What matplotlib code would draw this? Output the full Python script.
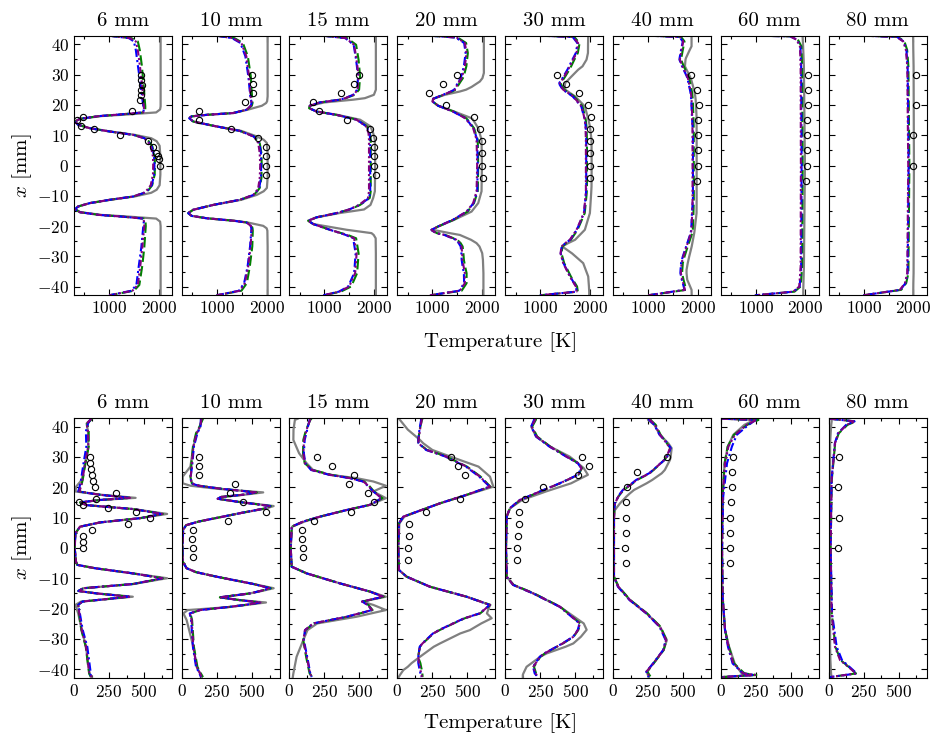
import matplotlib
matplotlib.use("Agg")
import matplotlib.pyplot as plt
from matplotlib.ticker import MultipleLocator

plt.rcParams.update({
    "font.family": "serif",
    "font.serif": ["cmr10"],
    "mathtext.fontset": "cm",
    "axes.unicode_minus": False,
    "axes.formatter.use_mathtext": True,
})

TITLES = ["6 mm", "10 mm", "15 mm", "20 mm", "30 mm", "40 mm", "60 mm", "80 mm"]

# ---------------- top row: mean temperature ----------------
TOP_Y = [
    [42.8, 42.0, 40.9, 38, 33, 26, 19.5, 18.5, 17.5, 16.8, 16.3, 15.4, 14.5, 13.4, 12.3, 11.2, 10.1, 9.0, 8.0, 6.5,
     3, 0, -3, -6.5, -8.0, -9.0, -10.2, -11.3, -12.4, -13.5, -14.4, -15.4, -16.3, -16.8, -17.5, -18.5, -20, -27, -33,
     -39.4, -41.3, -42.8],
    [42.8, 42.0, 40.4, 36, 29.4, 22.8, 21.2, 20.6, 19.7, 18.4, 17.3, 16.7, 16.2, 15.6, 14.5, 13.1, 11.4, 9.6, 8.5, 7.4,
     4.1, 0, -4.1, -7.4, -8.5, -9.7, -11.3, -13.0, -14.6, -15.7, -16.6, -17.4, -18.2, -18.8, -19.9, -20.7, -21.5, -26.7,
     -33.3, -38.8, -41.3, -42.8],
    [42.8, 42.0, 39.8, 34.8, 29.4, 25, 23.3, 22.2, 21.7, 20.8, 19.7, 18.9, 17.8, 16.7, 15.1, 12.9, 10.7, 8.5, 0, -8.5,
     -10.7, -13.0, -14.5, -15.7, -17.1, -18.2, -19.3, -21.2, -22.3, -22.9, -24.0, -29, -35.5, -39.9, -41.6, -42.8],
    [42.8, 42.2, 40.4, 37.1, 32.7, 30.5, 28.8, 27.7, 25.9, 25, 24.4, 23.3, 22.0, 21.1, 19.7, 17.8, 15.6, 15.1, 12.3, 8.5,
     0, -8.5, -12.4, -15.2, -17.9, -20.1, -21.2, -21.5, -22.3, -22.9, -24.5, -25.6, -26.7, -28.9, -31.1, -33.3, -35.5,
     -38.8, -41.3, -42.8],
    [42.8, 42.4, 40.3, 37.1, 34.9, 32.7, 31.6, 28.8, 27.2, 26.6, 25, 22.8, 19.5, 15.1, 12.9, 8.5, 0, -6.9, -9.1, -15.7,
     -21.2, -24.5, -25.6, -26.7, -29, -32.2, -36.6, -39.9, -41.6, -42.8],
    [42.8, 42.4, 40.9, 39.3, 38.1, 35.4, 34.9, 32.7, 29.4, 28.3, 23.9, 21.7, 16.2, 10.7, -11.3, -15.7, -21.2, -22.3,
     -26.7, -30, -32.2, -34.4, -35.5, -37.7, -38.8, -41.0, -42.8],
    [42.8, 42.6, 41.5, 39.3, 32.7, 0, -33.3, -39.9, -41.6, -42.8],
    [42.8, 42.4, 40.9, 38.1, 32.7, 0, -35.5, -38.8, -41.0, -42.8],
]
TOP_GREY = [
    [2040, 2040, 2040, 2040, 2040, 2040, 2040, 2030, 1950, 1350, 850, 420, 310, 375, 610, 1030, 1520, 1850, 1960, 2020,
     2035, 2035, 2035, 2020, 1960, 1850, 1520, 1030, 610, 375, 310, 420, 850, 1350, 1950, 2030, 2040, 2040, 2040, 2040,
     2040, 2040],
    [2020, 2020, 2020, 2020, 2020, 2020, 2010, 1990, 1904, 1620, 1330, 790, 483, 436, 517, 921, 1490, 1800, 1940, 2005,
     2020, 2020, 2020, 2005, 1940, 1800, 1490, 921, 517, 416, 483, 790, 1340, 1620, 1931, 2000, 2015, 2020, 2020, 2020,
     2020, 2020],
    [2039, 2039, 2039, 2039, 2039, 2039, 1999, 1817, 1580, 1000, 705, 692, 840, 1260, 1720, 1930, 1985, 2019, 2025, 2019,
     1985, 1930, 1800, 1300, 840, 672, 773, 1450, 1951, 1995, 2035, 2039, 2039, 2039, 2039, 2039],
    [2039, 2039, 2039, 2039, 2039, 2039, 2010, 1958, 1790, 1680, 1554, 1250, 1015, 1002, 1116, 1440, 1790, 1820, 1925,
     1992, 2000, 1992, 1925, 1790, 1440, 1116, 990, 1100, 1350, 1554, 1780, 1891, 1950, 2005, 2020, 2025, 2030, 2030,
     2030, 2030],
    [1965, 1965, 1962, 1960, 1931, 1850, 1763, 1594, 1500, 1493, 1500, 1700, 1897, 1970, 1999, 2032, 2035, 2032, 2025,
     1999, 1897, 1700, 1560, 1440, 1640, 1864, 1965, 1980, 1985, 1985],
    [1877, 1877, 1877, 1877, 1840, 1763, 1755, 1743, 1843, 1870, 1944, 1960, 1978, 1980, 1980, 1978, 1940, 1931, 1880,
     1830, 1800, 1776, 1776, 1790, 1820, 1877, 1880],
    [1945, 1945, 1948, 1955, 1971, 1992, 1971, 1960, 1958, 1958],
    [1995, 1995, 1997, 1999, 2005, 2012, 2005, 2000, 1999, 1999],
]
TOP_GREEN = [
    [1000, 1450, 1580, 1620, 1660, 1700, 1730, 1730, 1700, 1200, 800, 410, 310, 375, 610, 1015, 1490, 1720, 1800, 1870,
     1920, 1925, 1920, 1870, 1800, 1720, 1490, 1015, 610, 375, 310, 410, 800, 1220, 1700, 1735, 1740, 1710, 1670, 1610,
     1500, 1000],
    [990, 1350, 1520, 1620, 1680, 1705, 1715, 1715, 1700, 1600, 1325, 786, 483, 436, 517, 921, 1460, 1740, 1810, 1860,
     1895, 1900, 1895, 1860, 1810, 1740, 1460, 921, 517, 416, 483, 786, 1325, 1600, 1700, 1715, 1720, 1710, 1660, 1600,
     1490, 990],
    [975, 1460, 1640, 1690, 1720, 1700, 1610, 1430, 1311, 907, 705, 692, 840, 1244, 1660, 1860, 1920, 1935, 1935, 1935,
     1915, 1720, 1510, 1244, 840, 672, 773, 1110, 1340, 1470, 1640, 1690, 1660, 1540, 1330, 975],
    [948, 1510, 1680, 1715, 1685, 1650, 1615, 1570, 1500, 1470, 1395, 1225, 1015, 1002, 1116, 1430, 1680, 1710, 1840,
     1915, 1925, 1915, 1840, 1710, 1430, 1116, 982, 1000, 1090, 1260, 1500, 1570, 1610, 1625, 1635, 1660, 1690, 1690,
     1590, 948],
    [988, 1685, 1790, 1755, 1685, 1620, 1585, 1480, 1410, 1420, 1480, 1680, 1850, 1915, 1930, 1940, 1940, 1940, 1935,
     1895, 1750, 1615, 1520, 1445, 1425, 1480, 1615, 1740, 1755, 988],
    [1002, 1665, 1735, 1715, 1700, 1670, 1665, 1720, 1815, 1835, 1890, 1902, 1915, 1922, 1922, 1915, 1902, 1890, 1800,
     1735, 1700, 1690, 1686, 1715, 1734, 1768, 1002],
    [982, 1710, 1850, 1920, 1935, 1945, 1935, 1905, 1780, 982],
    [988, 1690, 1820, 1875, 1900, 1920, 1900, 1855, 1755, 988],
]
TOP_BLUE = [
    [1000, 1400, 1500, 1540, 1580, 1640, 1690, 1700, 1690, 1200, 800, 410, 310, 375, 610, 1015, 1490, 1710, 1790, 1860,
     1910, 1915, 1910, 1860, 1790, 1710, 1490, 1015, 610, 375, 310, 410, 800, 1220, 1690, 1700, 1690, 1650, 1600, 1550,
     1450, 1000],
    [990, 1300, 1470, 1570, 1630, 1670, 1690, 1695, 1680, 1594, 1325, 786, 483, 436, 517, 921, 1460, 1735, 1800, 1850,
     1885, 1890, 1885, 1850, 1800, 1735, 1460, 921, 517, 416, 483, 786, 1325, 1594, 1680, 1690, 1690, 1665, 1615, 1545,
     1440, 990],
    [975, 1420, 1590, 1640, 1680, 1660, 1580, 1410, 1311, 907, 705, 692, 840, 1244, 1650, 1850, 1910, 1925, 1925, 1925,
     1905, 1710, 1500, 1244, 840, 672, 773, 1110, 1320, 1430, 1580, 1630, 1600, 1480, 1290, 975],
    [948, 1470, 1640, 1670, 1635, 1600, 1570, 1525, 1470, 1440, 1370, 1210, 1015, 1002, 1116, 1410, 1670, 1695, 1830,
     1905, 1915, 1905, 1830, 1695, 1410, 1116, 982, 1000, 1080, 1240, 1475, 1530, 1570, 1585, 1590, 1610, 1635, 1640,
     1540, 948],
    [988, 1650, 1750, 1715, 1645, 1580, 1545, 1445, 1380, 1390, 1450, 1650, 1825, 1895, 1915, 1925, 1925, 1925, 1920,
     1880, 1735, 1600, 1505, 1430, 1410, 1465, 1600, 1720, 1730, 988],
    [1002, 1630, 1700, 1680, 1665, 1635, 1632, 1685, 1780, 1800, 1858, 1870, 1885, 1905, 1905, 1885, 1870, 1858, 1768,
     1700, 1665, 1655, 1652, 1680, 1700, 1735, 1002],
    [982, 1695, 1830, 1900, 1915, 1925, 1915, 1885, 1765, 982],
    [988, 1670, 1805, 1860, 1885, 1905, 1885, 1840, 1740, 988],
]
TOP_PURPLE = [
    [1000, 1420, 1540, 1580, 1620, 1670, 1700, 1705, 1690, 1200, 800, 410, 310, 375, 610, 1015, 1490, 1700, 1770, 1840,
     1885, 1890, 1885, 1840, 1770, 1700, 1490, 1015, 610, 375, 310, 410, 800, 1220, 1690, 1705, 1710, 1670, 1630, 1580,
     1470, 1000],
    [990, 1320, 1490, 1590, 1645, 1675, 1690, 1695, 1680, 1594, 1325, 786, 483, 436, 517, 921, 1460, 1729, 1790, 1830,
     1860, 1870, 1860, 1830, 1790, 1729, 1460, 921, 517, 416, 483, 786, 1325, 1594, 1680, 1695, 1697, 1675, 1628, 1561,
     1460, 990],
    [975, 1430, 1600, 1650, 1690, 1670, 1590, 1420, 1311, 907, 705, 692, 840, 1244, 1648, 1840, 1890, 1900, 1900, 1900,
     1880, 1700, 1500, 1244, 840, 672, 773, 1110, 1330, 1446, 1600, 1650, 1620, 1500, 1300, 975],
    [948, 1487, 1655, 1688, 1655, 1620, 1587, 1540, 1480, 1453, 1380, 1217, 1015, 1002, 1116, 1419, 1660, 1688, 1823,
     1891, 1904, 1891, 1823, 1688, 1419, 1116, 982, 1000, 1083, 1250, 1487, 1550, 1587, 1600, 1608, 1630, 1655, 1655,
     1554, 948],
    [988, 1661, 1763, 1729, 1660, 1594, 1560, 1460, 1392, 1400, 1460, 1661, 1830, 1897, 1910, 1918, 1918, 1918, 1918,
     1877, 1729, 1594, 1500, 1426, 1406, 1460, 1594, 1716, 1729, 988],
    [1002, 1641, 1709, 1690, 1675, 1645, 1641, 1695, 1790, 1810, 1865, 1877, 1890, 1897, 1897, 1890, 1877, 1865, 1776,
     1710, 1675, 1665, 1661, 1690, 1709, 1743, 1002],
    [982, 1688, 1823, 1891, 1905, 1910, 1905, 1877, 1756, 982],
    [988, 1661, 1796, 1850, 1877, 1897, 1877, 1830, 1729, 988],
]
TOP_EXP_Y = [
    [30, 28.3, 26.6, 24.9, 23.2, 21.5, 18, 16, 15, 13, 12, 10, 8, 6, 4, 3, 2, 0],
    [30, 27, 24, 21, 18, 15, 12, 9, 6, 3, 0, -3],
    [30, 27, 24, 21, 18, 15, 12, 9, 6, 3, 0, -3],
    [30, 27, 24, 20, 16, 12, 8, 4, 0, -4],
    [30, 27, 24, 20, 16, 12, 8, 4, 0, -4],
    [30, 25, 20, 15, 10, 5, 0, -5],
    [30, 25, 20, 15, 10, 5, 0, -5],
    [30, 20, 10, 0],
]
TOP_EXP_T = [
    [1640, 1645, 1665, 1650, 1640, 1625, 1470, 470, 350, 440, 690, 1220, 1790, 1890, 1950, 1990, 2010, 2025],
    [1709, 1715, 1715, 1560, 638, 632, 1271, 1817, 1978, 1978, 1985, 1978],
    [1702, 1594, 1325, 773, 887, 1460, 1918, 1985, 1999, 2005, 2005, 2039],
    [1500, 1204, 928, 1284, 1837, 1958, 1992, 2005, 2005, 2012],
    [1338, 1513, 1776, 1951, 2012, 1999, 1999, 1999, 1999, 1999],
    [1864, 1992, 2025, 2012, 2012, 1999, 1999, 1992],
    [2059, 2059, 2059, 2039, 2039, 2025, 2025, 2005],
    [2046, 2046, 1999, 1999],
]

# ---------------- bottom row: temperature fluctuation ----------------
BOT_Y = [
    [42.6, 41, 38.4, 33.4, 27.9, 22.4, 20.2, 18.6, 17.5, 16.5, 15.8, 15.0, 14.1, 12.8, 11.2, 9.8, 8.4, 7.0, 4.8, 0,
     -4.5, -5.6, -6.7, -8.4, -10.0, -11.9, -13.3, -14.2, -15.0, -16.1, -17.7, -18.8, -21.6, -27, -32.6, -38.6, -41.4,
     -42.6],
    [42.6, 40, 37.8, 33.4, 26.8, 23.5, 21.3, 20.5, 19.5, 18.3, 17.5, 16.8, 16.2, 15.2, 13.8, 13.0, 11.5, 10.0, 8.7, 7.5,
     6.0, 0, -4.5, -6.7, -8.0, -9.5, -11.9, -13.3, -14.2, -15.0, -16.3, -17.2, -18.0, -18.8, -19.5, -20.5, -21.6, -23.8,
     -32.6, -39.2, -41.4, -42.6],
    [42.6, 42.2, 39, 35.6, 31.2, 27.9, 25.7, 24.1, 23.0, 21.9, 20.5, 18.6, 16.4, 14.2, 12.5, 10.3, 8.7, 7.0, 0, -6.2,
     -8.4, -11.7, -14.4, -16.1, -17.7, -18.8, -20.5, -22.7, -24.9, -27.1, -30.4, -35.9, -41.4, -42.6],
    [42.6, 42.2, 39, 35.6, 34.5, 32.3, 30.1, 29.6, 26.8, 23.5, 20.2, 17.5, 14.7, 12.3, 10.3, 8.1, 0, -7.3, -9.5, -12.8,
     -16.1, -18.8, -21.6, -23.2, -24.9, -27.1, -28.2, -31.5, -32.6, -35.9, -38, -39.2, -40.3, -41.9, -42.6],
    [42.6, 42.2, 40, 36.7, 33.4, 30.1, 27.9, 26.3, 24.1, 21.3, 18.6, 15.8, 13.1, 10.3, 0, -9.5, -12.2, -15, -19.4,
     -24.9, -27, -29.3, -31.5, -32.6, -34.8, -35.9, -39.2, -41.4, -41.9, -42.6],
    [42.6, 42.2, 40.6, 37.3, 34.5, 32.9, 30.1, 29, 25.7, 24.6, 22.4, 21.3, 19.1, 18, 16.9, 14.7, 12.5, 9.2, -9.5, -12.8,
     -17.2, -21.6, -26, -30.4, -33.7, -38.1, -40.8, -42.6],
    [42.6, 42.2, 40.6, 37.3, 33.4, 27.9, 16.9, 0, -16, -27, -32.6, -38.1, -41.4, -41.9, -42.6],
    [42.6, 41.7, 40.6, 37.8, 34.5, 22.4, 0, -21.6, -32.6, -37, -39.7, -41.4, -42.6],
]
BOT_GREY = [
    [125, 90, 100, 102, 79, 55, 15, 10, 200, 440, 186, 43, 90, 424, 665, 471, 186, 43, 10, 5, 14, 24, 150, 420, 665,
     424, 67, 31, 160, 420, 50, 10, 30, 55, 86, 102, 110, 126],
    [140, 129, 105, 81, 60, 5, 5, 60, 250, 580, 440, 280, 255, 400, 655, 600, 420, 260, 120, 30, 8, 3, 5, 33, 100, 248,
     510, 655, 570, 486, 271, 410, 600, 460, 340, 40, 10, 33, 81, 105, 129, 140],
    [60, 40, 30, 29, 70, 124, 170, 290, 480, 600, 690, 600, 690, 576, 410, 219, 110, 20, 10, 17, 124, 362, 576, 690,
     520, 600, 690, 480, 200, 130, 100, 52, 29, 25],
    [10, 19, 75, 162, 185, 250, 380, 410, 580, 662, 686, 500, 305, 162, 50, 15, 7, 12, 67, 233, 495, 662, 640, 674, 600,
     519, 450, 305, 260, 162, 102, 75, 43, 19, 10],
    [212, 212, 185, 220, 320, 460, 520, 560, 590, 470, 290, 120, 35, 10, 5, 10, 57, 200, 390, 560, 581, 540, 486, 430,
     295, 250, 152, 129, 125, 125],
    [250, 250, 295, 335, 395, 419, 412, 407, 370, 348, 280, 240, 150, 121, 95, 50, 14, 7, 7, 38, 121, 240, 336, 385,
     360, 288, 240, 255],
    [10, 240, 170, 90, 50, 28, 12, 8, 12, 30, 60, 100, 150, 230, 10],
    [21, 21, 18, 14, 10, 10, 10, 10, 10, 12, 15, 17, 20],
]
BOT_GREEN = [
    [130, 95, 105, 105, 82, 62, 50, 36, 186, 405, 186, 43, 90, 424, 635, 471, 186, 43, 10, 5, 14, 24, 150, 420, 635,
     424, 67, 31, 160, 398, 60, 30, 36, 52, 84, 100, 108, 120],
    [150, 125, 100, 78, 66, 60, 70, 125, 285, 535, 430, 280, 255, 400, 635, 590, 420, 260, 120, 30, 8, 3, 5, 33, 100,
     248, 510, 635, 560, 486, 271, 410, 565, 450, 330, 129, 60, 72, 85, 110, 135, 150],
    [160, 150, 120, 100, 98, 110, 165, 300, 440, 535, 570, 605, 665, 576, 410, 219, 100, 17, 10, 17, 124, 362, 576, 675,
     525, 565, 595, 415, 175, 115, 100, 120, 145, 165],
    [180, 176, 160, 150, 150, 212, 355, 372, 498, 595, 665, 495, 305, 162, 43, 12, 7, 12, 67, 233, 495, 665, 592, 482,
     402, 302, 258, 182, 162, 148, 165, 170, 175, 180, 180],
    [220, 218, 192, 228, 322, 440, 522, 548, 522, 392, 250, 107, 33, 10, 5, 10, 60, 205, 392, 535, 522, 488, 412, 368,
     282, 250, 205, 220, 228, 228],
    [270, 268, 305, 340, 385, 410, 385, 367, 290, 262, 171, 142, 76, 56, 38, 14, 8, 7, 7, 40, 124, 244, 340, 382, 362,
     290, 245, 270],
    [10, 270, 190, 95, 50, 28, 14, 10, 14, 31, 58, 95, 170, 255, 10],
    [10, 195, 135, 72, 46, 22, 14, 22, 48, 85, 155, 195, 10],
]
BOT_BLUE = [
    [120, 100, 85, 88, 68, 50, 40, 30, 186, 400, 186, 43, 90, 424, 630, 471, 186, 43, 10, 5, 14, 24, 150, 420, 630,
     424, 67, 31, 160, 393, 60, 30, 42, 62, 95, 112, 120, 115],
    [135, 132, 110, 85, 72, 62, 65, 118, 280, 530, 430, 280, 255, 400, 630, 590, 420, 260, 120, 30, 8, 3, 5, 33, 100,
     248, 510, 629, 560, 486, 271, 410, 560, 450, 330, 129, 55, 65, 78, 100, 125, 135],
    [145, 145, 128, 110, 104, 115, 155, 285, 430, 525, 560, 600, 660, 576, 410, 219, 100, 17, 10, 17, 124, 362, 576,
     671, 520, 560, 590, 410, 171, 112, 104, 128, 150, 160],
    [168, 170, 158, 150, 152, 205, 345, 365, 490, 585, 660, 495, 305, 162, 43, 12, 7, 12, 67, 233, 495, 660, 588, 478,
     398, 298, 255, 178, 160, 150, 150, 155, 160, 168, 170],
    [205, 205, 185, 220, 315, 435, 518, 542, 518, 388, 246, 103, 33, 10, 5, 10, 55, 198, 388, 530, 518, 484, 408, 365,
     278, 246, 198, 210, 220, 220],
    [255, 258, 295, 332, 390, 412, 388, 368, 285, 258, 165, 135, 70, 52, 36, 14, 8, 7, 7, 35, 118, 238, 332, 376, 358,
     286, 238, 255],
    [10, 250, 200, 115, 80, 45, 18, 10, 14, 31, 52, 85, 160, 240, 10],
    [10, 185, 125, 66, 44, 20, 14, 24, 57, 95, 160, 200, 10],
]
BOT_PURPLE = [
    [125, 90, 100, 102, 79, 60, 50, 38, 186, 400, 186, 43, 90, 424, 630, 471, 186, 43, 10, 5, 14, 24, 150, 420, 630,
     424, 67, 31, 160, 393, 60, 30, 38, 55, 86, 102, 110, 126],
    [140, 129, 105, 81, 69, 62, 69, 120, 280, 530, 430, 280, 255, 400, 630, 590, 420, 260, 120, 30, 8, 3, 5, 33, 100,
     248, 510, 629, 560, 486, 271, 410, 560, 450, 330, 129, 57, 69, 81, 105, 129, 140],
    [148, 148, 124, 105, 100, 112, 160, 290, 433, 529, 564, 600, 660, 576, 410, 219, 100, 17, 10, 17, 124, 362, 576,
     671, 520, 560, 590, 410, 171, 112, 100, 124, 148, 160],
    [174, 174, 162, 152, 150, 210, 352, 370, 495, 590, 662, 495, 305, 162, 43, 12, 7, 12, 67, 233, 495, 662, 590, 480,
     400, 300, 257, 180, 162, 150, 155, 162, 165, 174, 174],
    [212, 212, 188, 224, 319, 438, 521, 545, 521, 390, 248, 105, 33, 10, 5, 10, 57, 200, 390, 533, 520, 486, 410, 367,
     280, 248, 200, 215, 224, 224],
    [264, 264, 300, 336, 383, 407, 383, 365, 288, 260, 169, 140, 74, 55, 38, 14, 8, 7, 7, 38, 121, 240, 336, 379, 360,
     288, 240, 264],
    [10, 257, 186, 102, 55, 31, 14, 10, 14, 31, 55, 90, 162, 245, 10],
    [10, 188, 129, 69, 45, 21, 14, 21, 45, 81, 152, 195, 10],
]
BOT_EXP_Y = [
    [30, 28, 26, 24, 22, 20, 18, 16, 15, 14, 13, 12, 10, 8, 6, 4, 2, 0],
    [30, 27, 24, 21, 18, 15, 12, 9, 6, 3, 0, -3],
    [30, 27, 24, 21, 18, 15, 12, 9, 6, 3, 0, -3],
    [30, 27, 24, 16, 12, 8, 4, 0, -4],
    [30, 27, 24, 20, 16, 12, 8, 4, 0, -4],
    [30, 25, 20, 15, 10, 5, 0, -5],
    [30, 25, 20, 15, 10, 5, 0, -5],
    [30, 20, 10, 0],
]
BOT_EXP_T = [
    [112, 112, 119, 131, 138, 152, 298, 160, 36, 67, 245, 440, 543, 388, 131, 64, 64, 64],
    [121, 121, 121, 379, 343, 433, 598, 331, 81, 69, 76, 76],
    [200, 302, 462, 426, 560, 605, 440, 179, 88, 88, 100, 100],
    [383, 436, 483, 448, 202, 86, 86, 79, 79],
    [545, 600, 517, 271, 140, 98, 98, 88, 86, 86],
    [383, 169, 98, 93, 90, 93, 88, 90],
    [90, 83, 79, 74, 67, 67, 67, 67],
    [74, 69, 71, 67],
]

W, H = 936, 739
LEFTS = [74, 182, 289.3, 397.3, 505.3, 613, 720.7, 828.7]

fig = plt.figure(figsize=(W / 100, H / 100), dpi=100)


def draw_row(bottom_px, ys, greys, greens, blues, purples, eys, evs, xlim, major, minor):
    for i in range(8):
        ax = fig.add_axes([LEFTS[i] / W, (H - bottom_px) / H, 98 / W, 259.6 / H])
        ax.plot(greys[i], ys[i], color="grey", lw=1.6)
        ax.plot(greens[i], ys[i], color="green", lw=1.5, ls=(0, (5, 2)))
        ax.plot(blues[i], ys[i], color="blue", lw=1.5, ls=(0, (4, 1.5, 1, 1.5)))
        ax.plot(purples[i], ys[i], color="purple", lw=1.5, ls=(0, (3, 1.2, 1, 1.2, 1, 1.2)))
        ax.plot(evs[i], eys[i], "o", mfc="none", mec="black", ms=4.5, mew=0.8)
        ax.set_xlim(*xlim)
        ax.set_ylim(-42.8, 42.8)
        ax.xaxis.set_major_locator(MultipleLocator(major))
        ax.xaxis.set_minor_locator(MultipleLocator(minor))
        ax.yaxis.set_major_locator(MultipleLocator(10))
        ax.yaxis.set_minor_locator(MultipleLocator(5))
        ax.tick_params(which="both", direction="in", top=True, right=True, labelsize=12.5, width=0.8)
        ax.tick_params(which="major", length=4)
        ax.tick_params(which="minor", length=2)
        if i > 0:
            ax.set_yticklabels([])
        ax.set_title(TITLES[i], fontsize=15, pad=7)


draw_row(295.3, TOP_Y, TOP_GREY, TOP_GREEN, TOP_BLUE, TOP_PURPLE, TOP_EXP_Y, TOP_EXP_T, (290, 2270), 1000, 500)
draw_row(677.7, BOT_Y, BOT_GREY, BOT_GREEN, BOT_BLUE, BOT_PURPLE, BOT_EXP_Y, BOT_EXP_T, (0, 700), 250, 125)

fig.text(501 / W, 1 - 342 / H, "Temperature [K]", ha="center", va="center", fontsize=15)
fig.text(501 / W, 1 - 723 / H, "Temperature [K]", ha="center", va="center", fontsize=15)
fig.text(22 / W, 1 - 165.5 / H, "$x$ [mm]", ha="center", va="center", rotation=90, fontsize=15)
fig.text(22 / W, 1 - 548 / H, "$x$ [mm]", ha="center", va="center", rotation=90, fontsize=15)

fig.savefig("out.png", dpi=100)
